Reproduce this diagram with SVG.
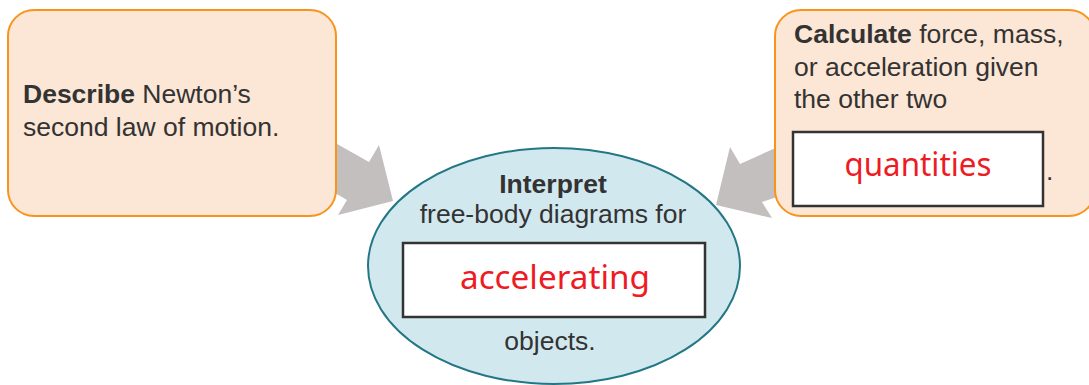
<svg xmlns="http://www.w3.org/2000/svg" width="1089" height="385" viewBox="0 0 1089 385">
<style>
.box{fill:#fce6d5;stroke:#f7941d;stroke-width:2}
.t{font-family:"Liberation Sans",Arial,sans-serif;font-size:26.5px;fill:#333333}
.b{font-weight:bold}
.word{fill:#ffffff;stroke:#333333;stroke-width:2.5}
.hw{font-family:"Noto Sans","DejaVu Sans",sans-serif;font-size:32px;fill:#ed1c24;text-anchor:middle}
.arrow{fill:#c3bfbf}
</style>
<rect width="1089" height="385" fill="#ffffff"/>
<g id="connectors">
<polygon class="arrow" points="330,140 369,162 379,145 393,201 338,215 347,200 330,190"/>
<polygon class="arrow" points="780,146 740,164 730,147 716,205 772,218 762,202 780,196"/>
</g>
<g id="node-describe">
<rect class="box" x="8" y="10" width="328" height="206" rx="26"/>
<text class="t" x="23" y="103"><tspan class="b">Describe</tspan> Newton’s</text>
<text class="t" x="23" y="136">second law of motion.</text>
</g>
<g id="node-calculate">
<rect class="box" x="775" y="10" width="320" height="206" rx="26"/>
<text class="t" x="794" y="43"><tspan class="b">Calculate</tspan> force, mass,</text>
<text class="t" x="794" y="76">or acceleration given</text>
<text class="t" x="794" y="108">the other two</text>
<rect class="word" x="793" y="132" width="250" height="74"/>
<text class="hw" x="918" y="176" textLength="147" lengthAdjust="spacingAndGlyphs">quantities</text>
<text class="t" x="1046" y="180">.</text>
</g>
<g id="node-interpret">
<ellipse cx="554" cy="266" rx="186" ry="118" fill="#d2e8ef" stroke="#237785" stroke-width="2"/>
<text class="t b" x="553" y="193" text-anchor="middle">Interpret</text>
<text class="t" x="553" y="223" text-anchor="middle">free-body diagrams for</text>
<rect class="word" x="403" y="243" width="302" height="74"/>
<text class="hw" x="555" y="289" font-size="34" textLength="190" lengthAdjust="spacingAndGlyphs">accelerating</text>
<text class="t" x="550" y="350" text-anchor="middle">objects.</text>
</g>
</svg>
